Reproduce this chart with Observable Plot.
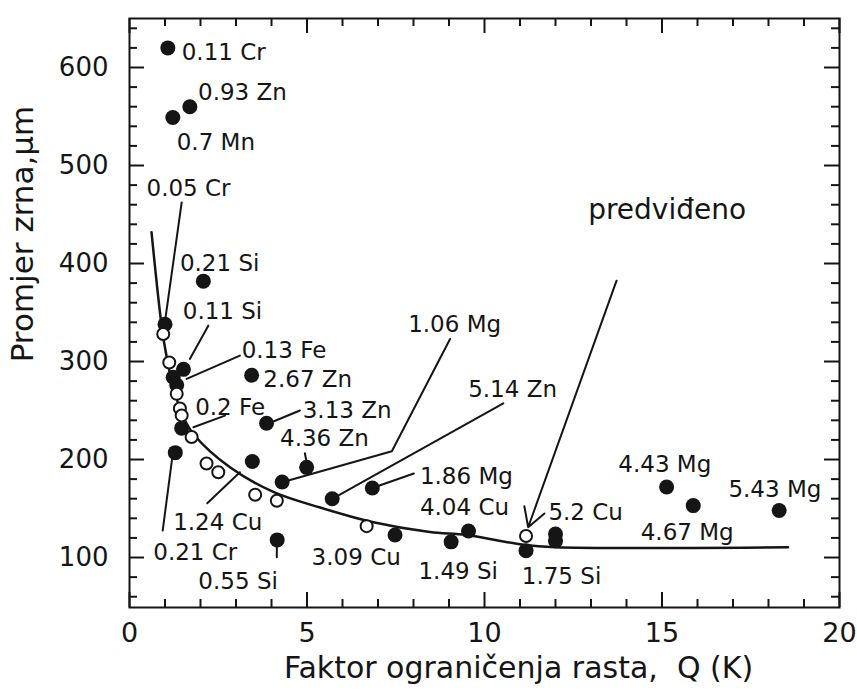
<!DOCTYPE html>
<html><head><meta charset="utf-8">
<script src="https://cdn.jsdelivr.net/npm/d3@7"></script>
<script src="https://cdn.jsdelivr.net/npm/@observablehq/plot@0.6"></script>
<style>body{margin:0;background:#fff} svg{font-family:"DejaVu Sans",sans-serif}</style>
</head><body><div id="chart"></div>
<script>
// Filled circles: measured samples (Q in K, grain size in µm)
const filledQ = [1.08, 1.70, 1.22, 2.08, 1.00, 1.52, 1.23, 1.33, 3.44, 3.86, 1.47, 1.29, 3.46, 4.99, 4.30, 5.71, 6.84, 4.16, 7.48, 9.06, 9.55, 11.17, 12.0, 12.0, 15.13, 15.88, 18.3];
const filledD = [620, 560, 549, 382, 338, 292, 284, 276, 286, 237, 232, 207, 198, 192, 177, 160, 171, 118, 123, 116, 127, 107, 124, 117, 172, 153, 148];
// Open circles
const openQ = [0.95, 1.12, 1.33, 1.42, 1.47, 1.75, 2.17, 2.50, 3.54, 4.15, 6.68, 11.17];
const openD = [328, 299, 267, 252, 245, 223, 196, 187, 164, 158, 132, 122];
// Predicted curve
const curveQ = [0.62, 0.91, 1.05, 1.23, 1.52, 1.80, 2.83, 4.05, 5.37, 6.87, 8.46, 9.5, 11.09, 12.0, 18.55];
const curveD = [432, 335, 304, 274, 243, 226, 192, 167, 151, 136, 126, 123, 113, 110.5, 110.5];
// Point labels
const labelText = ["0.11 Cr","0.93 Zn","0.7 Mn","0.05 Cr","0.21 Si","0.11 Si","0.13 Fe","2.67 Zn","0.2 Fe","3.13 Zn","4.36 Zn","1.06 Mg","5.14 Zn","1.86 Mg","4.04 Cu","1.24 Cu","0.21 Cr","0.55 Si","3.09 Cu","1.49 Si","1.75 Si","5.2 Cu","4.43 Mg","4.67 Mg","5.43 Mg"];
const labelQ = [1.47, 1.93, 1.33, 0.48, 1.42, 1.50, 3.16, 3.77, 1.85, 4.88, 4.24, 7.85, 9.54, 8.18, 8.18, 1.23, 0.67, 1.94, 5.13, 8.14, 11.05, 11.8, 13.77, 14.4, 16.87];
const labelD = [615.3, 574.5, 523.5, 476.3, 399.5, 351, 311, 282, 253, 250, 221, 337.6, 271, 182.6, 150.5, 135.2, 105.4, 75.5, 99.7, 85.7, 80.6, 145.4, 194.8, 125.8, 169.3];
// Leader lines (polylines keyed by id)
const leaderId = ["a","a","b","b","c","c","d","d","e","e","f","f","g","g","g","h","h","i","i","j","j","k","k","l","l"];
const leaderQ = [1.47,1.0, 2.22,1.70, 3.11,1.61, 2.69,1.80, 4.80,4.07, 4.94,4.99, 9.03,7.39,4.30, 10.53,5.71, 8.01,6.96, 2.19,3.11, 0.935,1.23, 4.15,4.15];
const leaderD = [462.3,341, 336.6,302.6, 306,282.2, 244.8,232.9, 250,239, 206.4,197.2, 323,208.4,176.8, 257.4,159.9, 185.7,172.4, 155.4,187, 127.5,209, 114,100.3];
// "predviđeno" note and arrow
const noteText = ["predviđeno"];
const noteQ = [12.92];
const noteD = [454.6];
const arrowQ = [13.72, 11.23];
const arrowD = [382.5, 130.9];
// Ticks
const xTicks = [0, 5, 10, 15, 20];
const xMinor = [1,2,3,4,6,7,8,9,11,12,13,14,16,17,18,19];
const yTicks = [100, 200, 300, 400, 500, 600];
const yMinor = [60,80,120,140,160,180,220,240,260,280,320,340,360,380,420,440,460,480,520,540,560,580,620,640];
const xTitle = "Faktor ograničenja rasta,  Q (K)";
const yTitle = "Promjer zrna,μm";

const filled = filledQ.map((q,i)=>({q, d: filledD[i]}));
const open = openQ.map((q,i)=>({q, d: openD[i]}));
const curve = curveQ.map((q,i)=>({q, d: curveD[i]}));
const labels = labelText.map((t,i)=>({t, q: labelQ[i], d: labelD[i]}));
const leaders = leaderId.map((id,i)=>({id, q: leaderQ[i], d: leaderD[i]}));
const note = noteText.map((t,i)=>({t, q: noteQ[i], d: noteD[i]}));
const arrow = [{x1: arrowQ[0], y1: arrowD[0], x2: arrowQ[1], y2: arrowD[1]}];

const W = 857, H = 693, ML = 129, MR = 18, MT = 18, MB = 86;
const FW = W - ML - MR, FH = H - MT - MB;
const ink = "#151515";

const chart = Plot.plot({
  width: W, height: H,
  marginLeft: ML, marginRight: MR, marginTop: MT, marginBottom: MB,
  x: {domain: [0, 20], label: null},
  y: {domain: [49, 650], label: null},
  style: {fontFamily: "DejaVu Sans, sans-serif", background: "white", color: ink},
  marks: [
    Plot.frame({stroke: ink, strokeWidth: 2}),
    // inward ticks on all four sides
    Plot.tickX(xMinor, {x: d=>d, insetTop: FH - 8, stroke: ink, strokeWidth: 2}),
    Plot.tickX(xTicks, {x: d=>d, insetTop: FH - 15, stroke: ink, strokeWidth: 2}),
    Plot.tickX(xMinor, {x: d=>d, insetBottom: FH - 8, stroke: ink, strokeWidth: 2}),
    Plot.tickX(xTicks, {x: d=>d, insetBottom: FH - 15, stroke: ink, strokeWidth: 2}),
    Plot.tickY(yMinor, {y: d=>d, insetRight: FW - 8, stroke: ink, strokeWidth: 2}),
    Plot.tickY(yTicks, {y: d=>d, insetRight: FW - 15, stroke: ink, strokeWidth: 2}),
    Plot.tickY(yMinor, {y: d=>d, insetLeft: FW - 8, stroke: ink, strokeWidth: 2}),
    Plot.tickY(yTicks, {y: d=>d, insetLeft: FW - 15, stroke: ink, strokeWidth: 2}),
    Plot.axisX({ticks: xTicks, tickSize: 0, tickPadding: 15, fontSize: 27, label: null, tickFormat: d=>String(d)}),
    Plot.axisY({ticks: yTicks, tickSize: 0, tickPadding: 21, fontSize: 26, label: null, tickFormat: d=>String(d)}),
    Plot.text([xTitle], {frameAnchor: "bottom", textAnchor: "middle", lineAnchor: "bottom", dx: 34, dy: 70, fontSize: 30, fill: ink}),
    Plot.text([yTitle], {frameAnchor: "left", textAnchor: "middle", lineAnchor: "middle", rotate: -90, dx: -106, dy: -79, fontSize: 31, fill: ink}),
    // curve and leaders
    Plot.line(curve, {x: "q", y: "d", curve: "catmull-rom", stroke: ink, strokeWidth: 2.5}),
    Plot.line(leaders, {x: "q", y: "d", z: "id", stroke: ink, strokeWidth: 2}),
    Plot.arrow(arrow, {x1: "x1", y1: "y1", x2: "x2", y2: "y2", stroke: ink, strokeWidth: 2, headLength: 16}),
    // points
    Plot.dot(filled, {x: "q", y: "d", r: 7.5, fill: ink}),
    Plot.dot(open, {x: "q", y: "d", r: 6, fill: "white", stroke: ink, strokeWidth: 2}),
    // labels
    Plot.text(labels, {x: "q", y: "d", text: "t", textAnchor: "start", fontSize: 23, fill: ink}),
    Plot.text(note, {x: "q", y: "d", text: "t", textAnchor: "start", fontSize: 28, fill: ink})
  ]
});
document.getElementById("chart").appendChild(chart);
</script>
</body></html>
